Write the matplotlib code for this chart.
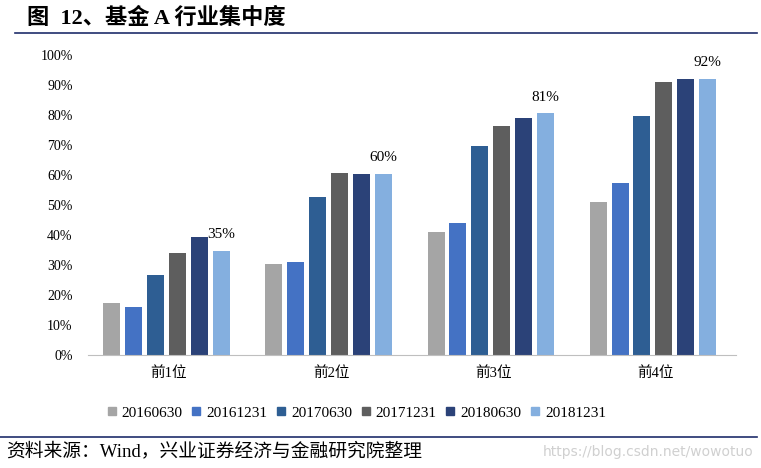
import matplotlib.pyplot as plt
import numpy as np
from matplotlib.lines import Line2D

plt.rcParams['font.family'] = ['Liberation Serif', 'Noto Sans CJK SC']

# data
categories = ['前1位', '前2位', '前3位', '前4位']
series = ['20160630', '20161231', '20170630', '20171231', '20180630', '20181231']
values = [
    [17.2, 30.3, 41.0, 51.0],
    [16.0, 30.9, 44.0, 57.2],
    [26.7, 52.7, 69.7, 79.7],
    [34.0, 60.7, 76.3, 91.0],
    [39.3, 60.3, 79.0, 92.1],
    [34.7, 60.3, 80.6, 92.0],
]
last_labels = ['35%', '60%', '81%', '92%']
colors = ['#A5A5A5', '#4472C4', '#2E5E93', '#5E5E5E', '#2B4278', '#84AFDF']

fig = plt.figure(figsize=(7.61, 4.68), dpi=100)
ax = fig.add_axes([0.1156, 0.2415, 0.852, 0.641])

x = np.arange(len(categories))
w = 0.105
step = 0.135
for i, (name, vals) in enumerate(zip(series, values)):
    pos = x + (i - 2.5) * step - 0.015
    ax.bar(pos, vals, width=w, color=colors[i], label=name, zorder=2)
    if i == len(series) - 1:
        for px, v, lab in zip(pos, vals, last_labels):
            ax.text(px, v + 3.2, lab, ha='center', va='bottom', fontsize=11)

ax.set_ylim(0, 100)
ax.set_xlim(-0.5, 3.5)
ax.set_yticks(range(0, 101, 10))
ax.set_yticklabels([f'{t}%' for t in range(0, 101, 10)], fontsize=10)
ax.set_xticks(x)
ax.set_xticklabels(categories, fontsize=10.5)
ax.tick_params(length=0, pad=8)
ax.tick_params(axis='y', pad=11)
for s in ['top', 'right', 'left']:
    ax.spines[s].set_visible(False)
ax.spines['bottom'].set_color('#BFBFBF')

handles = [Line2D([], [], marker='s', linestyle='', markersize=6,
                  markerfacecolor=c, markeredgecolor=c) for c in colors]
fig.legend(handles, series, loc='center', bbox_to_anchor=(0.468, 0.118), ncol=6,
           frameon=False, fontsize=11, handlelength=0.7, handletextpad=0.3,
           columnspacing=0.55)

# title and footer
fig.text(0.035, 0.962, '图  12、基金 A 行业集中度', fontsize=16, fontweight='bold',
         va='center', ha='left')
fig.add_artist(Line2D([0.02, 0.995], [0.929, 0.929], color='#1F2D6B', lw=1.2))
fig.add_artist(Line2D([0.0, 0.995], [0.066, 0.066], color='#1F2D6B', lw=1.2))
fig.text(0.008, 0.035, '资料来源：Wind，兴业证券经济与金融研究院整理', fontsize=13.5,
         va='center', ha='left')
fig.text(0.99, 0.035, 'https://blog.csdn.net/wowotuo', fontsize=10, color='#D0D0D0',
         va='center', ha='right', family='DejaVu Sans')

fig.savefig('out.png', dpi=100)
